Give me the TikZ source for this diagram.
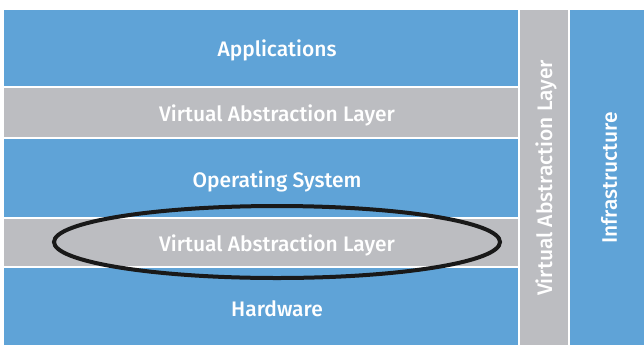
\documentclass[tikz,border=0pt]{standalone}
\usepackage{fontspec}
\setmainfont{Fira Sans}[BoldFont={Fira Sans Medium}]
\definecolor{layerblue}{HTML}{5FA3D7}
\definecolor{layergray}{HTML}{BCBDC1}
\begin{document}
\begin{tikzpicture}[x=1pt,y=-1pt,
  band/.style={draw=white,line width=1.2pt},
  lbl/.style={text=white,font=\fontsize{21}{24}\selectfont\bfseries},
  vlbl/.style={lbl,rotate=90}]
\useasboundingbox[fill=white] (0,0) rectangle (644,346);
% stacked layers
\fill[layerblue,band] (3,9) rectangle (519,87);
\fill[layergray,band] (3,87) rectangle (519,138);
\fill[layerblue,band] (3,138) rectangle (519,218);
\fill[layergray,band] (3,218) rectangle (519,267);
\fill[layerblue,band] (3,267) rectangle (519,346);
% side columns
\fill[layergray,band] (519,9) rectangle (569,346);
\fill[layerblue,band] (569,9) rectangle (645,346);
% labels
\node[lbl] (apps) at (277,50) {Applications};
\node[lbl] (val1) at (277,115) {Virtual Abstraction Layer};
\node[lbl] (os) at (277,181) {Operating System};
\node[lbl] (val2) at (277,245) {Virtual Abstraction Layer};
\node[lbl] (hw) at (277,309) {Hardware};
\node[vlbl] (valv) at (546,178) {Virtual Abstraction Layer};
\node[vlbl] (infra) at (609,178) {Infrastructure};
% highlight ring
\draw[line width=4pt,black!90] (277,242) ellipse [x radius=223, y radius=36];
\end{tikzpicture}
\end{document}
